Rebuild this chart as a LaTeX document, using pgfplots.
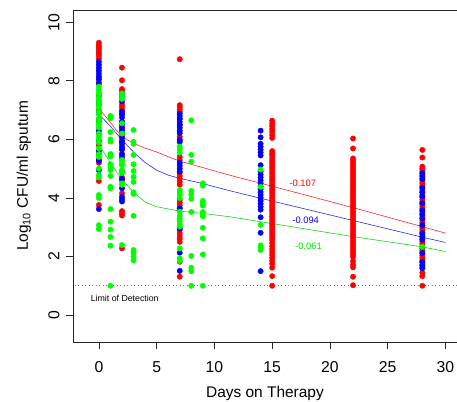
\documentclass[border=0pt]{standalone}
\usepackage{fontspec}
\setmainfont{Liberation Sans}
\usepackage{pgfplots}
\pgfplotsset{compat=1.18}
\definecolor{rred}{RGB}{255,0,0}
\definecolor{rblue}{RGB}{0,0,255}
\definecolor{rgreen}{RGB}{0,255,0}
\begin{document}
\begin{tikzpicture}
\begin{axis}[
  scale only axis, width=384bp, height=332bp,
  xmin=-2.24, xmax=31.0, ymin=-0.92, ymax=10.42,
  axis x line=box, axis y line=left,
  axis line style={-, black!85, line width=0.7pt},
  xtick={0,5,...,30}, ytick={0,2,...,10},
  xtick pos=bottom, tick align=outside,
  major tick length=7bp,
  tick style={black!85, line width=0.7pt},
  /pgf/number format/assume math mode=true,
  tick label style={font=\fontsize{15.8}{18}\selectfont},
  yticklabel style={rotate=90, anchor=south},
  xticklabel shift=9bp, yticklabel shift=3bp,
  xlabel={Days on Therapy},
  ylabel={Log\textsubscript{10} CFU/ml sputum},
  label style={font=\fontsize{15.5}{18}\selectfont},
  xlabel style={at={(axis description cs:0.5,-0.154)}, anchor=center},
  ylabel style={at={(axis description cs:-0.128,0.5)}, anchor=center, rotate=0},
  clip=false,
]
% limit of detection
\addplot[black!55, line width=0.6pt, dash pattern=on 1bp off 2.5bp] coordinates {(-2.1,1) (31,1)};
\node[font=\fontsize{8.8}{10}\selectfont, anchor=west] at (axis cs:-1.0,0.57) {Limit of Detection};

% red
\addplot[only marks, mark=*, mark size=2.7pt, color=rred] coordinates {
(0,9.30)(0,9.22)(0,9.15)(0,9.08)(0,9.00)(0,8.93)(0,8.85)(0,8.75)(0,8.10)(0,7.95)(0,7.30)(0,7.00)(0,6.70)(0,6.20)(0,5.80)(0,5.50)(0,5.20)(0,4.58)(0,3.76)
(2,8.45)(2,8.02)(2,7.72)(2,7.65)(2,7.20)(2,7.10)(2,7.00)(2,6.90)(2,6.60)(2,6.40)(2,6.10)(2,5.90)(2,5.70)(2,5.50)(2,5.30)(2,4.90)(2,4.70)(2,4.60)(2,4.16)(2,3.55)(2,3.47)(2,3.40)(2,2.28)
(7,8.74)(7,7.17)(7,7.10)(7,7.03)(7,6.95)(7,6.70)(7,6.50)(7,6.10)(7,5.90)(7,5.40)(7,5.30)(7,4.85)(7,4.75)(7,4.65)(7,4.55)(7,4.45)(7,3.93)(7,3.85)(7,3.75)(7,3.66)(7,2.90)(7,2.80)(7,2.70)(7,2.60)(7,2.50)(7,1.82)(7,1.31)
(15,6.64)(15,6.54)(15,6.45)(15,6.35)(15,6.26)(15,6.15)(15,6.05)(15,5.60)(15,5.52)(15,5.45)(15,5.36)(15,5.28)(15,5.21)(15,5.12)(15,5.04)(15,4.97)(15,4.88)(15,4.80)(15,4.72)(15,4.64)(15,4.57)(15,4.48)(15,4.40)(15,4.32)(15,4.25)(15,4.16)(15,4.08)(15,4.00)(15,3.92)(15,3.85)(15,3.76)(15,3.68)(15,3.60)(15,3.53)(15,3.44)(15,3.36)(15,3.28)(15,3.20)(15,3.12)(15,3.05)(15,2.96)(15,2.88)(15,2.80)(15,2.72)(15,2.64)(15,2.56)(15,2.46)(15,2.35)(15,2.25)(15,2.15)(15,2.05)(15,1.95)(15,1.85)(15,1.75)(15,1.62)(15,1.33)(15,1.00)
(22,6.03)(22,5.69)(22,5.35)(22,5.27)(22,5.19)(22,5.11)(22,5.03)(22,4.95)(22,4.87)(22,4.79)(22,4.71)(22,4.63)(22,4.55)(22,4.47)(22,4.39)(22,4.31)(22,4.23)(22,4.15)(22,4.07)(22,3.99)(22,3.91)(22,3.83)(22,3.75)(22,3.67)(22,3.59)(22,3.51)(22,3.43)(22,3.35)(22,3.27)(22,3.19)(22,3.11)(22,3.03)(22,2.95)(22,2.87)(22,2.79)(22,2.71)(22,2.63)(22,2.55)(22,2.47)(22,2.39)(22,2.31)(22,2.23)(22,2.15)(22,2.07)(22,1.99)(22,1.84)(22,1.72)(22,1.63)(22,1.31)(22,1.02)
(28,5.64)(28,5.38)(28,5.07)(28,4.99)(28,4.91)(28,4.83)(28,4.75)(28,4.67)(28,4.59)(28,4.51)(28,4.43)(28,4.35)(28,4.27)(28,4.19)(28,4.11)(28,4.03)(28,3.95)(28,3.87)(28,3.79)(28,3.71)(28,3.63)(28,3.55)(28,3.47)(28,3.39)(28,3.31)(28,3.23)(28,3.15)(28,3.07)(28,2.99)(28,2.91)(28,2.83)(28,2.75)(28,2.67)(28,2.59)(28,2.51)(28,2.43)(28,2.35)(28,2.27)(28,2.19)(28,2.11)(28,2.03)(28,1.95)(28,1.87)(28,1.79)(28,1.71)(28,1.63)(28,1.45)(28,1.33)(28,1.00)
};
% blue
\addplot[only marks, mark=*, mark size=2.7pt, color=rblue] coordinates {
(0,8.65)(0,8.55)(0,8.45)(0,8.35)(0,8.25)(0,8.15)(0,8.05)(0,7.90)(0,7.50)(0,7.20)(0,6.90)(0,6.60)(0,6.30)(0,5.95)(0,5.60)(0,5.30)(0,5.27)(0,4.95)(0,3.62)
(2,7.55)(2,7.45)(2,7.30)(2,6.95)(2,6.85)(2,6.75)(2,6.60)(2,6.50)(2,6.40)(2,6.30)(2,6.20)(2,6.05)(2,5.95)(2,5.85)(2,5.75)(2,5.65)(2,5.50)(2,5.40)(2,4.65)(2,4.33)(2,4.04)(2,3.95)(2,3.88)
(7,6.88)(7,6.80)(7,6.70)(7,6.60)(7,6.50)(7,6.40)(7,6.30)(7,6.22)(7,6.00)(7,5.95)(7,5.20)(7,5.10)(7,5.00)(7,4.90)(7,3.64)(7,2.96)(7,2.13)(7,1.51)
(14,6.30)(14,6.07)(14,5.85)(14,5.75)(14,5.65)(14,5.55)(14,5.45)(14,5.12)(14,4.90)(14,4.80)(14,4.70)(14,4.60)(14,4.50)(14,4.40)(14,4.30)(14,4.20)(14,4.10)(14,4.00)(14,3.90)(14,3.80)(14,3.70)(14,3.60)(14,3.34)(14,2.81)(14,1.50)
(28,4.85)(28,4.75)(28,4.65)(28,4.35)(28,4.20)(28,4.05)(28,3.82)(28,3.58)(28,3.45)(28,3.30)(28,3.07)(28,2.80)(28,2.68)(28,2.58)(28,2.12)(28,1.82)(28,1.70)(28,1.60)
};
% green
\addplot[only marks, mark=*, mark size=2.7pt, color=rgreen] coordinates {
(0,7.80)(0,7.70)(0,7.60)(0,7.50)(0,7.40)(0,7.30)(0,7.20)(0,7.10)(0,6.95)(0,6.85)(0,6.70)(0,6.60)(0,6.50)(0,6.40)(0,6.20)(0,6.10)(0,6.00)(0,5.90)(0,5.70)(0,5.50)(0,5.40)(0,5.00)(0,4.78)(0,4.70)(0,4.10)(0,4.00)(0,3.07)(0,2.94)
(1,6.80)(1,6.72)(1,6.25)(1,6.00)(1,5.93)(1,5.50)(1,5.42)(1,5.15)(1,5.08)(1,4.95)(1,4.75)(1,4.38)(1,4.33)(1,3.62)(1,3.19)(1,2.92)(1,2.67)(1,2.37)(1,1.00)
(2,7.57)(2,7.47)(2,7.38)(2,6.55)(2,6.20)(2,5.30)(2,5.20)(2,5.12)(2,4.95)(2,4.85)(2,4.50)(2,4.45)(2,2.39)
(3,6.32)(3,5.92)(3,5.85)(3,5.47)(3,5.15)(3,4.92)(3,4.72)(3,4.55)(3,4.19)(3,4.14)(3,3.39)(3,2.22)(3,2.12)(3,2.00)(3,1.87)
(7,5.75)(7,5.65)(7,5.55)(7,4.27)(7,4.20)(7,4.10)(7,4.00)(7,3.53)(7,3.40)(7,3.30)(7,3.20)(7,3.10)(7,3.02)(7,2.28)(7,1.94)(7,1.85)
(8,6.65)(8,5.47)(8,5.24)(8,4.24)(8,4.12)(8,3.97)(8,3.52)(8,2.02)(8,1.62)(8,1.50)(8,1.00)
(9,4.50)(9,4.42)(9,3.90)(9,3.82)(9,3.74)(9,3.52)(9,3.44)(9,3.37)(9,2.98)(9,2.62)(9,2.07)(9,1.00)
(14,4.97)(14,4.38)(14,3.08)(14,2.38)(14,2.30)(14,2.22)
(28,2.33)
};

% fitted curves
\addplot[rred!85, line width=0.6pt] coordinates {
(0,7.06)(0.5,6.82)(1,6.58)(1.5,6.32)(2,6.09)(3,5.87)(4,5.70)(5,5.57)(6,5.41)(7,5.26)(8.7,5.07)(11.3,4.78)(15,4.40)(22,3.67)(28,3.02)(30,2.80)};
\addplot[rblue!85, line width=0.6pt] coordinates {
(0,6.86)(1,6.45)(2,5.98)(3,5.57)(4,5.21)(5,4.95)(6,4.78)(7,4.67)(8.7,4.52)(11.3,4.25)(14.2,3.97)(22,3.23)(28,2.66)(30,2.48)};
\addplot[rgreen!85!black!95, line width=0.6pt] coordinates {
(0,5.82)(1,5.20)(2,4.62)(3,4.20)(4,3.86)(5,3.70)(7,3.55)(9,3.47)(11.3,3.36)(22,2.68)(28,2.33)(30,2.17)};

\node[font=\fontsize{9.4}{11}\selectfont, text=rred] at (axis cs:17.65,4.50) {-0.107};
\node[font=\fontsize{9.4}{11}\selectfont, text=rblue] at (axis cs:17.9,3.25) {-0.094};
\node[font=\fontsize{9.4}{11}\selectfont, text=rgreen!90!black] at (axis cs:18.14,2.36) {-0.061};
\end{axis}
\pgfresetboundingbox
\path ([xshift=-73bp,yshift=-60bp]current axis.south west) rectangle ([yshift=10bp]current axis.north east);
\end{tikzpicture}
\end{document}
